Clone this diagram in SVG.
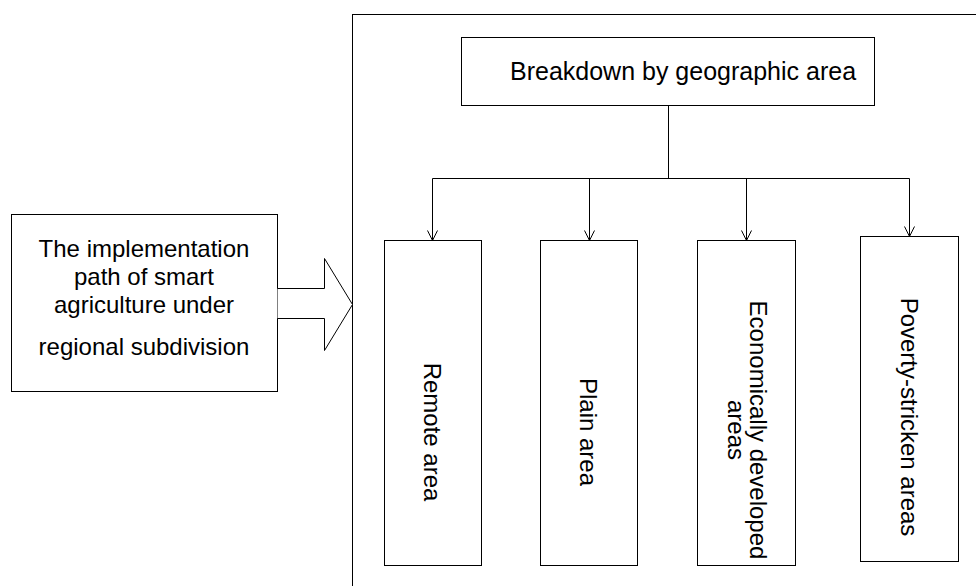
<svg xmlns="http://www.w3.org/2000/svg" width="976" height="586" viewBox="0 0 976 586">
<defs>
<style>
.box{fill:#fff;stroke:#000;stroke-width:1}
.t{font-family:"Liberation Sans",Arial,sans-serif;font-size:24px;fill:#000}
.ln{fill:none;stroke:#000;stroke-width:1}
</style>
<marker id="ah" viewBox="0 0 12 12" refX="11" refY="6" markerWidth="12" markerHeight="12" markerUnits="userSpaceOnUse" orient="auto">
<path d="M1,1 L11,6 L1,11" fill="none" stroke="#000" stroke-width="1"/>
</marker>
</defs>
<rect width="976" height="586" fill="#fff"/>
<g id="frame"><rect class="box" x="352.5" y="14.5" width="640" height="600"/></g>
<g id="source">
<rect class="box" x="11.5" y="214.5" width="266" height="177"/>
<text class="t" text-anchor="middle" x="144" y="257">The implementation</text>
<text class="t" text-anchor="middle" x="144" y="285">path of smart</text>
<text class="t" text-anchor="middle" x="144" y="313">agriculture under</text>
<text class="t" text-anchor="middle" x="144" y="355">regional subdivision</text>
</g>
<g id="bigarrow"><path class="box" d="M277.5,288.5 L324.5,288.5 L324.5,258.5 L352.5,304.5 L324.5,350.5 L324.5,318.5 L277.5,318.5"/></g>
<g id="top">
<rect class="box" x="461.5" y="37.5" width="413" height="68"/>
<text class="t" style="font-size:25px" x="510" y="80">Breakdown by geographic area</text>
</g>
<g id="connectors">
<path class="ln" d="M668.5,105.5 V178.5 M432.5,178.5 H909.5"/>
<path class="ln" marker-end="url(#ah)" d="M432.5,178.5 V240.5"/>
<path class="ln" marker-end="url(#ah)" d="M589.5,178.5 V240.5"/>
<path class="ln" marker-end="url(#ah)" d="M746.5,178.5 V240.5"/>
<path class="ln" marker-end="url(#ah)" d="M909.5,178.5 V236.5"/>
</g>
<g id="remote">
<rect class="box" x="384.5" y="240.5" width="97" height="325"/>
<text class="t" text-anchor="middle" transform="translate(424,432) rotate(90)">Remote area</text>
</g>
<g id="plain">
<rect class="box" x="540.5" y="240.5" width="97" height="325"/>
<text class="t" text-anchor="middle" transform="translate(580,432) rotate(90)">Plain area</text>
</g>
<g id="econ">
<rect class="box" x="697.5" y="240.5" width="98" height="325"/>
<text class="t" text-anchor="middle" transform="translate(750,430) rotate(90)">Economically developed</text>
<text class="t" text-anchor="middle" transform="translate(728,430) rotate(90)">areas</text>
</g>
<g id="poverty">
<rect class="box" x="860.5" y="236.5" width="98" height="325"/>
<text class="t" text-anchor="middle" transform="translate(901,417) rotate(90)">Poverty-stricken areas</text>
</g>
</svg>
